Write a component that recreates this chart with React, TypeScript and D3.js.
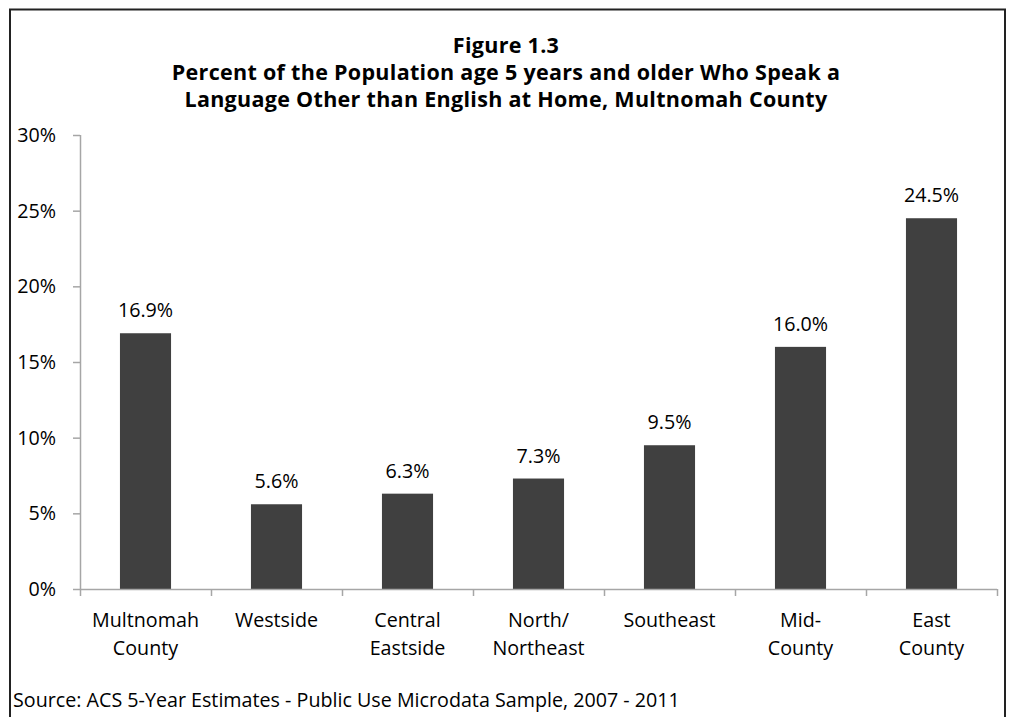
import React from "react";
import * as d3 from "d3";

const categories: string[][] = [
  ["Multnomah", "County"],
  ["Westside"],
  ["Central", "Eastside"],
  ["North/", "Northeast"],
  ["Southeast"],
  ["Mid-", "County"],
  ["East", "County"],
];
const values: number[] = [16.9, 5.6, 6.3, 7.3, 9.5, 16.0, 24.5];
const yTicks: number[] = [0, 5, 10, 15, 20, 25, 30];
const titleLines: string[] = [
  "Figure 1.3",
  "Percent of the Population age 5 years and older Who Speak a",
  "Language Other than English at Home, Multnomah County",
];
const sourceText = "Source: ACS 5-Year Estimates - Public Use Microdata Sample, 2007 - 2011";

const W = 1013;
const H = 717;
const FONT = "'Open Sans', sans-serif";

export default function App() {
  const left = 80;
  const right = 997;
  const top = 135;
  const bottom = 589;
  const keys = categories.map((_, i) => String(i));
  const x = d3.scaleBand<string>().domain(keys).range([left, right]).paddingInner(0.61).paddingOuter(0.305);
  const xb = d3.scaleBand<string>().domain(keys).range([left, right]);
  const y = d3.scaleLinear().domain([0, 30]).range([bottom, top]);
  const axisColor = "#a6a6a6";
  const bw = x.bandwidth();
  const fs = 19.7;

  return (
    <svg width={W} height={H} style={{ position: "absolute", left: 0, top: 0 }} fontFamily={FONT}>
      <rect x={0} y={0} width={W} height={H} fill="#fff" />
      <path d={`M10,${H + 5} L10,9.5 L1005,9.5 L1005,${H + 5}`} fill="none" stroke="#222" strokeWidth={2} />
      {titleLines.map((t, i) => (
        <text key={i} x={506} y={53 + i * 27} textAnchor="middle" fontWeight="bold" fontSize={21.5} letterSpacing={0.3} fill="#000">
          {t}
        </text>
      ))}
      {/* y axis */}
      <line x1={left + 0.5} x2={left + 0.5} y1={top} y2={bottom} stroke={axisColor} strokeWidth={1.5} />
      {yTicks.map((t) => (
        <g key={t}>
          <line x1={left - 7} x2={left} y1={y(t) + 0.5} y2={y(t) + 0.5} stroke={axisColor} strokeWidth={1.5} />
          <text x={56} y={y(t) + 7} textAnchor="end" fontSize={fs} fill="#000">
            {t}%
          </text>
        </g>
      ))}
      {/* bars */}
      {values.map((v, i) => (
        <g key={i}>
          <rect x={x(String(i))!} y={y(v)} width={bw} height={bottom - y(v)} fill="#404040" />
          <text x={x(String(i))! + bw / 2} y={y(v) - 16} textAnchor="middle" fontSize={fs} fill="#000">
            {v.toFixed(1)}%
          </text>
        </g>
      ))}
      {/* x axis */}
      <line x1={left} x2={right} y1={bottom + 0.5} y2={bottom + 0.5} stroke={axisColor} strokeWidth={1.5} />
      {keys.concat(["end"]).map((k, i) => {
        const xx = i < keys.length ? xb(k)! : right;
        return <line key={k} x1={xx + 0.5} x2={xx + 0.5} y1={bottom} y2={bottom + 7} stroke={axisColor} strokeWidth={1.5} />;
      })}
      {categories.map((lines, i) => (
        <text key={i} x={xb(String(i))! + xb.bandwidth() / 2} y={627} textAnchor="middle" fontSize={fs} fill="#000">
          {lines.map((l, j) => (
            <tspan key={j} x={xb(String(i))! + xb.bandwidth() / 2} dy={j === 0 ? 0 : 28}>
              {l}
            </tspan>
          ))}
        </text>
      ))}
      <text x={13} y={707} fontSize={fs} fill="#000">
        {sourceText}
      </text>
    </svg>
  );
}
